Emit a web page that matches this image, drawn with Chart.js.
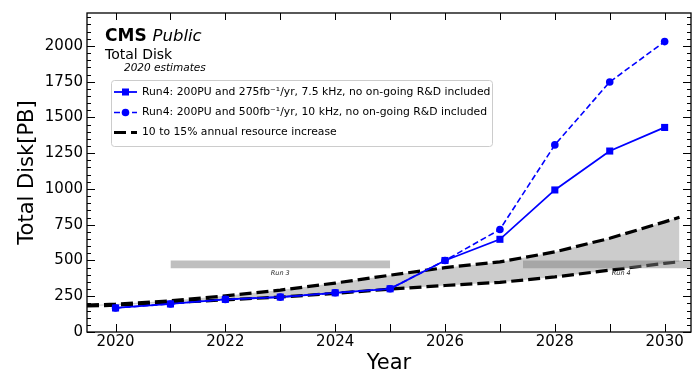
<!DOCTYPE html>
<html>
<head>
<meta charset="utf-8">
<script src="https://cdn.jsdelivr.net/npm/chart.js@4.4.1/dist/chart.umd.min.js"></script>
<style>
  html, body { margin: 0; padding: 0; background: #fff; }
  canvas { display: block; }
</style>
</head>
<body>
<canvas id="c" width="696" height="376"></canvas>
<script>
// ---- data -------------------------------------------------------------
const years = [2020, 2021, 2022, 2023, 2024, 2025, 2026, 2027, 2028, 2029, 2030];
// Total disk need [PB], 275 fb^-1/yr scenario
const diskRun4Baseline = [168, 196, 228, 244, 274, 302, 500, 648, 993, 1265, 1430];
// Total disk need [PB], 500 fb^-1/yr scenario
const diskRun4High = [168, 196, 228, 244, 274, 302, 500, 717, 1308, 1748, 2030];

// flat-budget growth envelope (10% and 15% per year)
const trendYears = [2019.48, 2020, 2021, 2022, 2023, 2024, 2025, 2026, 2027, 2028, 2029, 2030, 2030.27];
const trendHigh = [188, 195, 218, 253, 293, 342, 397, 450, 490, 560, 655, 770, 802];
const trendLow  = [182, 187, 205, 225, 244, 270, 300, 325, 347, 385, 432, 480, 491];

// LHC run periods, drawn as a band
const runNames = ['Run 3', 'Run 4'];
const runStart = [2021, 2027.42];
const runEnd   = [2025, 2031];
const runBand  = [445, 500];

const xTickYears = [2020, 2021, 2022, 2023, 2024, 2025, 2026, 2027, 2028, 2029, 2030];
const xLabelYears = [2020, 2022, 2024, 2026, 2028, 2030];
const yTickValues = [0, 250, 500, 750, 1000, 1250, 1500, 1750, 2000];

const seriesLabels = [
  'Run4: 200PU and 275fb\u207B\u00B9/yr, 7.5 kHz, no on-going R&D included',
  'Run4: 200PU and 500fb\u207B\u00B9/yr, 10 kHz, no on-going R&D included',
  '10 to 15% annual resource increase'
];

// ---- helpers ----------------------------------------------------------
const FONT = '"DejaVu Sans", Verdana, sans-serif';
const BLUE = 'rgb(0,0,255)';
const pts = (xs, ys) => xs.map((x, i) => ({ x: x, y: ys[i] }));

const datasets = [
  // shaded band between the growth curves
  { data: pts(trendYears, trendHigh), borderWidth: 0, pointRadius: 0, fill: false, order: 30 },
  { data: pts(trendYears, trendLow), borderWidth: 0, pointRadius: 0, fill: '-1',
    backgroundColor: 'rgb(204,204,204)', order: 29 },
  // dashed growth curves
  { data: pts(trendYears, trendHigh), borderColor: '#000', borderWidth: 3.2, borderDash: [12, 5],
    pointRadius: 0, fill: false, order: 20 },
  { data: pts(trendYears, trendLow), borderColor: '#000', borderWidth: 3.2, borderDash: [12, 5],
    pointRadius: 0, fill: false, order: 19 }
];

runNames.forEach((name, i) => {
  datasets.push({ data: [{ x: runStart[i], y: runBand[1] }, { x: runEnd[i], y: runBand[1] }],
    borderWidth: 0, pointRadius: 0, fill: false, order: 10 - 2 * i });
  datasets.push({ data: [{ x: runStart[i], y: runBand[0] }, { x: runEnd[i], y: runBand[0] }],
    borderWidth: 0, pointRadius: 0, fill: '-1', backgroundColor: 'rgba(128,128,128,0.5)',
    order: 9 - 2 * i });
});

datasets.push({
  data: pts(years, diskRun4High), borderColor: BLUE, backgroundColor: BLUE,
  borderWidth: 1.6, borderDash: [6, 3], pointStyle: 'circle', pointRadius: 3.8,
  pointBorderWidth: 0, fill: false, order: 2
});
datasets.push({
  data: pts(years, diskRun4Baseline), borderColor: BLUE, backgroundColor: BLUE,
  borderWidth: 1.8, pointStyle: 'rect', pointRadius: 5, pointBorderWidth: 0,
  fill: false, order: 1
});

// ---- decorations: frame, inward ticks, run labels ----------------------
const framePlugin = {
  id: 'frame',
  afterDatasetsDraw(chart) {
    const { ctx, chartArea: a, scales: { x, y } } = chart;
    ctx.save();
    // run labels under the bands
    ctx.fillStyle = '#222';
    ctx.font = 'italic 6.5px ' + FONT;
    ctx.textAlign = 'center';
    ctx.textBaseline = 'middle';
    runNames.forEach((name, i) => {
      const cx = x.getPixelForValue((runStart[i] + runEnd[i]) / 2);
      const cy = y.getPixelForValue(runBand[0]) + 5;
      ctx.fillText(name, cx, cy);
    });
    // ticks pointing into the plot
    ctx.strokeStyle = '#000';
    ctx.lineWidth = 1;
    ctx.beginPath();
    xTickYears.forEach(v => {
      const px = Math.round(x.getPixelForValue(v)) + 0.5;
      ctx.moveTo(px, a.bottom); ctx.lineTo(px, a.bottom - 8);
      ctx.moveTo(px, a.top); ctx.lineTo(px, a.top + 7);
    });
    for (let v = 0; v <= y.max; v += 50) {
      const py = Math.round(y.getPixelForValue(v)) + 0.5;
      const len = (v % 250 === 0) ? 8 : 4;
      ctx.moveTo(a.left, py); ctx.lineTo(a.left + len, py);
      ctx.moveTo(a.right, py); ctx.lineTo(a.right - len, py);
    }
    ctx.stroke();
    ctx.lineWidth = 1.3;
    ctx.strokeRect(a.left, a.top, a.right - a.left, a.bottom - a.top);
    ctx.restore();
  }
};

// ---- annotation text and legend box ------------------------------------
const annotatePlugin = {
  id: 'annotate',
  afterDraw(chart) {
    const ctx = chart.ctx;
    ctx.save();
    ctx.fillStyle = '#000';
    ctx.textAlign = 'left';
    ctx.textBaseline = 'alphabetic';
    ctx.font = 'bold 17px ' + FONT;
    ctx.fillText('CMS', 105, 41);
    const w = ctx.measureText('CMS ').width;
    ctx.font = 'italic 16.5px ' + FONT;
    ctx.fillText('Public', 105 + w, 41);
    ctx.font = '14px ' + FONT;
    ctx.fillText('Total Disk', 105, 58.5);
    ctx.font = 'italic 10.5px ' + FONT;
    ctx.fillText('2020 estimates', 124, 71);

    // legend frame
    const bx = 111.5, by = 80.5, bw = 381, bh = 66, r = 3;
    ctx.beginPath();
    ctx.moveTo(bx + r, by);
    ctx.arcTo(bx + bw, by, bx + bw, by + bh, r);
    ctx.arcTo(bx + bw, by + bh, bx, by + bh, r);
    ctx.arcTo(bx, by + bh, bx, by, r);
    ctx.arcTo(bx, by, bx + bw, by, r);
    ctx.closePath();
    ctx.fillStyle = 'rgba(255,255,255,0.8)';
    ctx.fill();
    ctx.strokeStyle = '#cccccc';
    ctx.lineWidth = 1;
    ctx.stroke();

    const rows = [92, 112.5, 132.5];
    const x0 = 114, x1 = 137, xm = (x0 + x1) / 2;
    // solid blue with square
    ctx.strokeStyle = BLUE; ctx.fillStyle = BLUE;
    ctx.lineWidth = 1.8; ctx.setLineDash([]);
    ctx.beginPath(); ctx.moveTo(x0, rows[0]); ctx.lineTo(x1, rows[0]); ctx.stroke();
    ctx.fillRect(xm - 3.5, rows[0] - 3.5, 7, 7);
    // dashed blue with circle
    ctx.lineWidth = 1.6; ctx.setLineDash([6, 3]);
    ctx.beginPath(); ctx.moveTo(x0, rows[1]); ctx.lineTo(x1, rows[1]); ctx.stroke();
    ctx.setLineDash([]);
    ctx.beginPath(); ctx.arc(xm, rows[1], 3.8, 0, Math.PI * 2); ctx.fill();
    // black dashed
    ctx.strokeStyle = '#000'; ctx.lineWidth = 3.2; ctx.setLineDash([12, 5]);
    ctx.beginPath(); ctx.moveTo(x0, rows[2]); ctx.lineTo(x1, rows[2]); ctx.stroke();
    ctx.setLineDash([]);

    ctx.fillStyle = '#000';
    ctx.font = '10.8px ' + FONT;
    ctx.textBaseline = 'middle';
    seriesLabels.forEach((t, i) => ctx.fillText(t, 142, rows[i]));
    ctx.restore();
  }
};

new Chart(document.getElementById('c'), {
  type: 'line',
  data: { datasets: datasets },
  options: {
    responsive: false,
    animation: false,
    devicePixelRatio: 1,
    layout: { padding: { left: 0, right: 4, top: 9, bottom: 0 } },
    plugins: {
      legend: { display: false },
      tooltip: { enabled: false },
      filler: { drawTime: 'beforeDatasetDraw' }
    },
    elements: { line: { tension: 0 } },
    scales: {
      x: {
        type: 'linear',
        min: 2019.48,
        max: 2030.48,
        grid: { display: false, drawTicks: false },
        border: { display: false },
        afterBuildTicks: s => { s.ticks = xTickYears.map(v => ({ value: v })); },
        afterFit: s => { s.height = 44; },
        ticks: {
          autoSkip: false, maxRotation: 0, padding: 1, color: '#000',
          font: { family: FONT, size: 15 },
          callback: v => (xLabelYears.includes(v) ? String(v) : '')
        },
        title: {
          display: true, text: 'Year', color: '#000',
          font: { family: FONT, size: 21 }, padding: { top: 0, bottom: 0 }
        }
      },
      y: {
        type: 'linear',
        min: 0,
        max: 2230,
        grid: { display: false, drawTicks: false },
        border: { display: false },
        afterBuildTicks: s => { s.ticks = yTickValues.map(v => ({ value: v })); },
        afterFit: s => { s.width = 87; },
        ticks: {
          autoSkip: false, padding: 4, color: '#000',
          font: { family: FONT, size: 15 },
          callback: v => String(v)
        },
        title: {
          display: true, text: 'Total Disk[PB]', color: '#000',
          font: { family: FONT, size: 21 }, padding: { top: 15, bottom: 0 }
        }
      }
    }
  },
  plugins: [framePlugin, annotatePlugin]
});
</script>
</body>
</html>
